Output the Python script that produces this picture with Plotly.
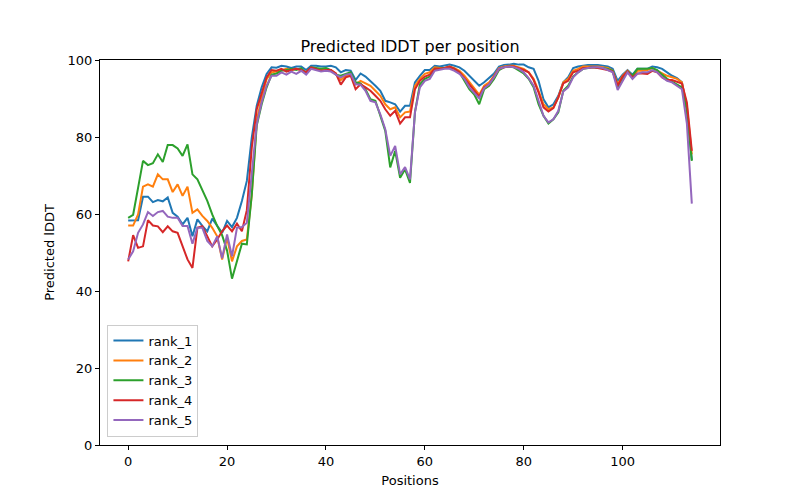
import plotly.graph_objects as go

positions = list(range(115))

rank_1 = [58.3, 58.3, 58.4, 64.5, 64.5, 63.1, 63.6, 63.3, 64.3, 60.3,
          59.3, 57.3, 59.0, 54.2, 58.6, 56.9, 55.5, 58.8, 57.0, 55.1,
          58.2, 56.6, 59.0, 63.4, 68.6, 79.9, 88.1, 92.9, 96.4, 98.1,
          98.0, 98.5, 98.3, 97.9, 98.3, 98.3, 97.4, 98.5, 98.5, 98.3,
          98.3, 98.5, 98.1, 96.8, 97.4, 97.2, 94.8, 96.5, 95.7, 94.6,
          93.3, 92.0, 89.4, 89.0, 88.5, 86.6, 88.1, 88.1, 94.2, 95.9,
          97.4, 97.4, 98.5, 98.3, 98.5, 98.8, 98.5, 98.1, 97.2, 95.9,
          94.8, 93.3, 94.2, 95.3, 96.5, 98.3, 98.7, 98.8, 99.0, 98.8,
          98.8, 98.1, 97.7, 94.6, 89.8, 87.7, 88.5, 90.7, 94.2, 95.5,
          97.9, 98.3, 98.5, 98.7, 98.7, 98.7, 98.5, 98.3, 97.7, 94.6,
          96.2, 97.4, 96.2, 97.7, 97.7, 97.7, 98.3, 98.1, 97.7, 96.8,
          95.9, 95.3, 94.2, 87.0, 74.0]

rank_2 = [57.0, 57.0, 59.9, 67.1, 67.7, 67.1, 70.3, 69.0, 69.0, 65.7,
          67.7, 64.7, 67.1, 60.3, 61.2, 59.5, 58.2, 56.4, 54.2, 48.2,
          53.8, 47.7, 51.6, 53.0, 53.4, 65.0, 84.2, 90.3, 95.0, 96.8,
          97.0, 97.4, 97.7, 97.4, 97.7, 97.4, 96.8, 97.9, 97.7, 97.4,
          97.2, 97.4, 96.5, 94.8, 95.9, 96.2, 93.7, 94.6, 93.9, 93.3,
          92.0, 90.7, 88.5, 87.2, 87.7, 85.1, 86.4, 86.6, 93.3, 95.1,
          96.4, 96.8, 98.1, 97.9, 97.9, 98.3, 97.9, 97.2, 95.9, 94.2,
          92.5, 91.0, 93.3, 94.2, 95.9, 97.9, 98.3, 98.5, 98.5, 98.1,
          97.7, 96.8, 95.1, 92.0, 88.5, 87.2, 87.7, 90.3, 94.2, 95.1,
          97.2, 97.7, 98.3, 98.3, 98.3, 98.3, 98.1, 97.9, 97.2, 93.7,
          95.9, 97.2, 95.7, 97.2, 97.2, 97.4, 97.9, 97.2, 96.4, 95.9,
          95.5, 95.1, 94.2, 88.0, 75.5]

rank_3 = [59.0, 59.8, 66.8, 73.8, 72.7, 73.2, 75.5, 73.5, 77.9, 77.9,
          77.0, 75.1, 78.1, 70.3, 69.0, 66.4, 63.4, 59.9, 56.9, 54.5,
          50.5, 43.2, 47.7, 52.3, 52.1, 65.1, 83.0, 88.5, 92.9, 96.2,
          96.5, 97.2, 97.4, 97.7, 97.4, 97.9, 96.5, 98.1, 97.9, 97.7,
          97.9, 97.4, 96.2, 95.9, 96.4, 96.8, 94.2, 93.9, 92.4, 89.8,
          89.4, 85.5, 81.6, 72.1, 76.4, 69.4, 71.6, 68.1, 86.4, 93.7,
          95.1, 95.7, 97.7, 97.7, 97.9, 98.1, 97.7, 96.8, 94.6, 92.4,
          91.0, 88.5, 92.4, 93.3, 95.1, 97.4, 98.1, 98.3, 98.1, 97.4,
          96.5, 95.1, 92.9, 88.5, 85.5, 83.5, 84.6, 86.4, 92.0, 93.3,
          95.7, 96.8, 97.7, 97.9, 98.1, 97.9, 97.9, 97.7, 97.2, 92.9,
          95.3, 97.0, 95.9, 97.7, 97.7, 97.7, 97.9, 97.4, 96.2, 95.1,
          94.4, 93.7, 92.9, 87.0, 73.8]

rank_4 = [47.7, 54.5, 51.2, 51.6, 58.4, 57.0, 56.8, 55.3, 56.8, 55.5,
          55.1, 51.6, 48.2, 46.0, 56.4, 56.8, 54.2, 51.6, 53.4, 55.5,
          57.0, 55.5, 57.5, 55.5, 61.0, 77.3, 87.2, 91.1, 95.5, 97.4,
          97.2, 97.7, 97.0, 97.4, 97.7, 97.4, 96.8, 98.1, 97.7, 97.2,
          97.4, 97.4, 96.5, 93.6, 95.5, 95.9, 92.4, 93.7, 92.9, 92.0,
          90.7, 89.4, 87.2, 85.5, 86.8, 83.5, 85.1, 85.1, 92.4, 94.6,
          95.7, 96.2, 97.7, 97.7, 97.9, 98.3, 97.7, 96.8, 95.3, 93.7,
          92.2, 90.5, 92.9, 93.7, 95.7, 97.7, 98.1, 98.3, 98.3, 97.9,
          97.4, 96.8, 94.8, 91.6, 87.7, 86.6, 87.5, 90.3, 93.9, 94.6,
          96.8, 97.2, 97.9, 97.9, 98.1, 97.9, 97.7, 97.4, 97.0, 93.3,
          95.7, 97.0, 95.5, 96.5, 96.5, 96.4, 97.2, 96.8, 95.5, 94.8,
          94.8, 94.4, 93.9, 89.0, 76.4]

rank_5 = [48.2, 50.3, 55.1, 57.3, 60.5, 59.5, 60.5, 60.8, 59.3, 59.0,
          59.0, 56.9, 56.9, 52.3, 56.4, 56.4, 53.0, 51.6, 54.2, 48.5,
          54.7, 49.0, 56.4, 56.6, 57.7, 71.2, 83.3, 89.0, 93.3, 95.9,
          95.9, 96.8, 96.2, 97.0, 96.4, 97.2, 96.2, 97.7, 97.4, 97.0,
          97.2, 97.0, 96.2, 95.5, 96.2, 96.4, 93.7, 93.6, 92.0, 89.4,
          89.0, 85.9, 82.0, 75.1, 77.7, 70.3, 72.2, 69.0, 86.4, 92.9,
          94.6, 95.1, 97.2, 97.4, 97.7, 97.7, 97.2, 96.4, 95.1, 92.9,
          91.5, 90.0, 92.7, 93.7, 95.5, 97.7, 98.1, 98.3, 98.1, 97.7,
          96.8, 95.3, 93.3, 89.4, 85.5, 83.8, 84.6, 86.8, 91.8, 92.9,
          95.5, 96.8, 97.7, 97.9, 98.1, 98.1, 97.9, 97.4, 96.8, 92.2,
          94.4, 96.8, 95.1, 96.4, 96.8, 96.8, 97.4, 96.8, 95.5, 94.6,
          94.2, 93.3, 92.4, 83.5, 62.7]

series_names = ["rank_1", "rank_2", "rank_3", "rank_4", "rank_5"]
series_values = [rank_1, rank_2, rank_3, rank_4, rank_5]
colors = ["#1f77b4", "#ff7f0e", "#2ca02c", "#d62728", "#9467bd"]

x_ticks = [0, 20, 40, 60, 80, 100]
y_ticks = [0, 20, 40, 60, 80, 100]

FONT = "DejaVu Sans"

fig = go.Figure()
for name, vals, col in zip(series_names, series_values, colors):
    fig.add_trace(go.Scatter(x=positions, y=vals, mode="lines", name=name,
                             line=dict(color=col, width=2)))

axis_common = dict(
    showline=True, linecolor="black", linewidth=1, mirror=True,
    ticks="outside", ticklen=4, tickwidth=1, tickcolor="black",
    showgrid=False, zeroline=False,
    tickfont=dict(family=FONT, size=13, color="black"),
)

fig.update_layout(
    width=800, height=500,
    paper_bgcolor="white", plot_bgcolor="white",
    margin=dict(l=92, r=88, t=52, b=63),
    font=dict(family=FONT, size=13, color="black"),
    title=dict(text="Predicted lDDT per position", x=0.5, xref="paper",
               y=1 - 38 / 500, yref="container", yanchor="middle",
               xanchor="center", font=dict(family=FONT, size=16, color="black")),
    xaxis=dict(range=[-5.7, 119.7], tickvals=x_ticks,
               title=dict(text="Positions", standoff=8,
                          font=dict(family=FONT, size=13)),
               **axis_common),
    yaxis=dict(range=[0, 100], tickvals=y_ticks,
               title=dict(text="Predicted lDDT", standoff=10,
                          font=dict(family=FONT, size=13)),
               **axis_common),
    legend=dict(x=0.012, y=0.022, xanchor="left", yanchor="bottom",
                bgcolor="rgba(255,255,255,0.8)", bordercolor="#cccccc",
                borderwidth=1, font=dict(family=FONT, size=13),
                tracegroupgap=0, itemwidth=30),
    showlegend=True,
)

fig.write_html("out.html")
